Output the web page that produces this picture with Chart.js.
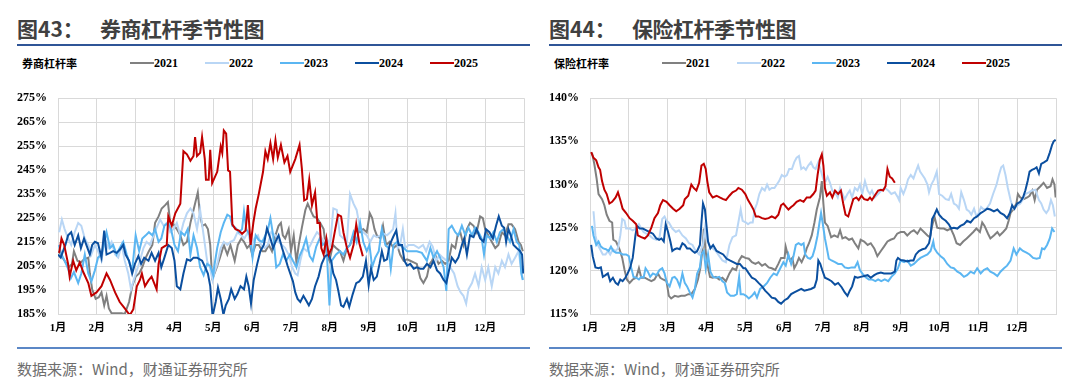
<!DOCTYPE html>
<html>
<head>
<meta charset="utf-8">
<script src="https://cdn.jsdelivr.net/npm/chart.js@4.4.1/dist/chart.umd.min.js"></script>
<style>
  body { margin: 0; background: #fff; width: 1080px; height: 391px; overflow: hidden; position: relative; font-family: "Noto Sans CJK SC", sans-serif; }
  .panel { position: absolute; top: 0; width: 532px; height: 391px; }
  .fig { position: absolute; top: 17px; left: 17px; font-size: 21px; line-height: 22px; font-weight: bold; color: #404040; }
  .name { position: absolute; top: 17px; left: 100px; font-size: 21px; line-height: 22px; font-weight: bold; color: #404040; letter-spacing: -0.5px; }
  .rule { position: absolute; left: 17px; width: 513px; top: 44px; height: 2px; background: #2f5597; }
  .unit { position: absolute; left: 22px; top: 56px; font-size: 11px; line-height: 14px; font-weight: bold; color: #000; }
  .leg { position: absolute; top: 56px; height: 14px; font: bold 12px "Liberation Serif", serif; line-height: 14px; color: #000; }
  .leg i { position: absolute; left: 0; top: 6px; width: 24px; height: 2px; }
  .leg span { position: absolute; left: 24px; top: 0; }
  .box { position: absolute; left: 0; top: 80px; width: 532px; height: 260px; }
  .foot { position: absolute; left: 17px; width: 513px; top: 347px; height: 2px; background: #5b87c6; }
  .src { position: absolute; left: 17px; top: 359px; font-size: 15px; line-height: 20px; color: #6d6d6d; }
</style>
</head>
<body>
<div class="panel" id="p1" style="left:0">
  <div class="fig">图43：</div>
  <div class="name">券商杠杆季节性图</div>
  <div class="rule"></div>
  <div class="unit">券商杠杆率</div>
  <div class="box"><canvas id="c1" width="532" height="260"></canvas></div>
  <div class="foot"></div>
  <div class="src">数据来源：Wind，财通证券研究所</div>
</div>
<div class="panel" id="p2" style="left:532px">
  <div class="fig">图44：</div>
  <div class="name">保险杠杆季节性图</div>
  <div class="rule"></div>
  <div class="unit">保险杠杆率</div>
  <div class="box"><canvas id="c2" width="532" height="260"></canvas></div>
  <div class="foot"></div>
  <div class="src">数据来源：Wind，财通证券研究所</div>
</div>
<script>
// x = month position (0 = 1月初, 12 = 年末), y = 杠杆率 %
const years = ["2021", "2022", "2023", "2024", "2025"];
const colors = ["#808080", "#b9d6f5", "#5bb6f2", "#0b4f9f", "#c00000"];
const monthLabels = ["1月", "2月", "3月", "4月", "5月", "6月", "7月", "8月", "9月", "10月", "11月", "12月"];

const broker2021 = [[0.02,211.2],[0.09,209.2],[0.17,207.2],[0.28,204.5],[0.36,205.9],[0.41,211.2],[0.50,207.2],[0.59,206.5],[0.67,207.8],[0.78,208.5],[0.82,201.9],[0.88,195.3],[0.97,191.3],[1.05,192],[1.12,194],[1.19,188.6],[1.25,192.6],[1.31,187.3],[1.38,185.3],[1.47,185.3],[1.55,185.3],[1.64,185.3],[1.72,185],[1.83,190],[1.91,196.6],[2.00,200.6],[2.09,201.9],[2.17,204.5],[2.26,208.5],[2.34,211.2],[2.43,213.8],[2.50,223],[2.59,225.7],[2.67,229],[2.76,230.4],[2.83,231.7],[2.89,223],[2.97,222.4],[3.06,220.4],[3.15,217.8],[3.23,213.8],[3.32,215.1],[3.41,223],[3.49,228.4],[3.55,232.4],[3.60,235.7],[3.66,225.7],[3.72,221.8],[3.79,222.4],[3.86,220.4],[3.92,213.8],[3.97,200],[4.00,200.6],[4.09,204.5],[4.17,208.5],[4.27,213.8],[4.36,209.8],[4.44,213.8],[4.55,207.2],[4.63,213.8],[4.72,216.5],[4.79,215.1],[4.87,212.5],[4.94,213.8],[5.00,209.8],[5.09,213.8],[5.17,213.8],[5.26,211.2],[5.34,211.2],[5.43,213.8],[5.51,211.2],[5.60,217.8],[5.68,221.8],[5.74,223],[5.79,217.8],[5.85,216.5],[5.94,220.4],[6.00,211.2],[6.07,217.8],[6.14,206.5],[6.20,213.8],[6.28,221],[6.37,228.4],[6.43,231],[6.50,228.4],[6.58,225.7],[6.67,225],[6.75,223],[6.84,220.4],[6.92,209.8],[6.99,207.2],[7.08,213.8],[7.16,212.5],[7.26,211.2],[7.35,207.2],[7.44,212.5],[7.52,213.8],[7.61,217.8],[7.69,220.4],[7.78,219.1],[7.86,220.4],[7.95,219.1],[8.03,227],[8.09,225],[8.15,220.4],[8.21,217.8],[8.30,216.5],[8.37,221.8],[8.45,213.8],[8.54,215.1],[8.64,212.5],[8.73,213.8],[8.81,209.8],[8.90,207.2],[8.99,207.8],[9.07,207.2],[9.16,206.5],[9.24,205.9],[9.33,200],[9.41,197.9],[9.50,200.6],[9.57,205.9],[9.63,207.2],[9.71,209.8],[9.80,205.9],[9.89,207.2],[9.97,205.9],[10.06,207.2],[10.14,213.8],[10.23,212.5],[10.29,217.8],[10.36,219.1],[10.44,213.8],[10.53,220.4],[10.61,223],[10.70,221.8],[10.78,219.1],[10.87,225.7],[10.94,225],[11.00,220.4],[11.08,217.8],[11.17,215.1],[11.26,212.5],[11.34,213.8],[11.43,219.1],[11.51,217.8],[11.60,222.4],[11.68,222.4],[11.77,220.4],[11.86,215.1],[11.92,213.8],[11.97,211.2]];

const broker2022 = [[0.03,219.1],[0.10,224.4],[0.17,220.4],[0.26,216.5],[0.34,213.8],[0.43,219.1],[0.52,223],[0.60,221.8],[0.69,216.5],[0.78,213.8],[0.86,209.8],[0.95,213.8],[1.03,211.2],[1.12,207.2],[1.21,216.5],[1.29,212.5],[1.38,215.1],[1.47,209.8],[1.55,208.5],[1.64,213.8],[1.72,207.2],[1.81,201.9],[1.88,195.3],[1.95,199.2],[2.03,203.2],[2.11,207.2],[2.20,212.5],[2.28,215.1],[2.37,213.8],[2.46,217.8],[2.54,221],[2.63,224.4],[2.72,221.8],[2.80,223],[2.89,219.1],[2.97,220.4],[3.06,223],[3.15,217.8],[3.23,223],[3.32,227],[3.41,229],[3.49,227],[3.58,220.4],[3.66,228.4],[3.75,217.8],[3.84,207.2],[3.92,203.9],[3.98,199],[4.02,201.9],[4.10,205.9],[4.19,212.5],[4.27,215.1],[4.36,213.8],[4.44,215.1],[4.53,215.8],[4.62,219.1],[4.72,217.8],[4.80,216.5],[4.89,219.1],[4.97,213.8],[5.06,216.5],[5.15,217.8],[5.23,213.8],[5.32,212.5],[5.40,213.8],[5.49,219.1],[5.60,217.8],[5.68,215.1],[5.77,213.8],[5.85,212.5],[5.94,209.8],[6.03,204.5],[6.11,201.9],[6.17,201.2],[6.24,207.2],[6.32,212.5],[6.41,211.2],[6.50,213.8],[6.58,216.5],[6.67,219.1],[6.75,217.8],[6.84,215.1],[6.92,216.5],[7.01,213.8],[7.09,229],[7.18,228.4],[7.26,217.8],[7.35,216.5],[7.44,215.1],[7.52,235],[7.61,231],[7.69,228.4],[7.78,220.4],[7.86,219.1],[7.95,217.8],[8.04,215.1],[8.13,217.8],[8.21,217.1],[8.30,217.8],[8.39,218.4],[8.47,217.8],[8.56,219.1],[8.63,220.4],[8.69,227],[8.75,212.5],[8.81,213.8],[8.88,220.4],[8.94,212.5],[9.03,213.8],[9.16,213.8],[9.29,212.5],[9.40,213.8],[9.48,211.2],[9.57,215.1],[9.65,213.1],[9.74,207.2],[9.83,209.8],[9.91,208.5],[10.01,207.2],[10.10,204.5],[10.20,201.9],[10.29,196.6],[10.37,194],[10.44,192.6],[10.51,189.3],[10.57,195.3],[10.66,197.9],[10.74,201.9],[10.83,196.6],[10.91,204.5],[11.00,199.2],[11.08,204.5],[11.17,196.6],[11.26,204.5],[11.34,201.9],[11.43,207.2],[11.51,204.5],[11.60,209.8],[11.68,205.9],[11.77,208.5],[11.86,211.2],[11.92,204.5],[11.97,199.2]];

const broker2023 = [[0.02,213.8],[0.09,209.8],[0.17,207.2],[0.26,203.9],[0.33,199.9],[0.41,202.5],[0.52,197.9],[0.60,201.9],[0.69,209.8],[0.78,201.9],[0.86,198.6],[0.95,203.2],[1.03,208.5],[1.12,209.8],[1.19,214.5],[1.25,219.1],[1.34,212.5],[1.42,213.8],[1.51,209.8],[1.59,212.5],[1.68,215.1],[1.77,209.8],[1.85,205.9],[1.91,203.2],[2.00,217.8],[2.09,211.2],[2.17,216.5],[2.26,217.8],[2.34,219.1],[2.43,217.8],[2.50,220.4],[2.59,215.1],[2.66,216.5],[2.74,221.8],[2.83,223],[2.91,220.4],[3.00,213.8],[3.09,211.2],[3.17,219.1],[3.26,217.8],[3.34,220.4],[3.41,209.8],[3.49,217.8],[3.58,212.5],[3.66,204.5],[3.75,201.2],[3.84,205.9],[3.92,205],[4.00,201],[4.02,204.5],[4.10,212.5],[4.19,219.1],[4.27,223],[4.36,226.4],[4.43,225.7],[4.49,221.8],[4.57,221],[4.66,219.1],[4.74,220.4],[4.79,227.7],[4.85,220.4],[4.94,217.8],[5.01,208.5],[5.09,217.8],[5.17,215.8],[5.26,215.1],[5.34,217.8],[5.40,219.8],[5.47,225],[5.54,217.8],[5.62,204.5],[5.71,205.9],[5.79,209.8],[5.88,207.2],[5.97,209.8],[6.05,207.2],[6.14,204.5],[6.22,209.2],[6.31,212.5],[6.39,216.5],[6.48,209.2],[6.56,207.2],[6.65,213.1],[6.74,216.5],[6.82,213.8],[6.91,215.1],[6.99,188.6],[7.05,207.2],[7.16,209.8],[7.26,211.2],[7.35,209.8],[7.44,212.5],[7.52,213.8],[7.61,219.1],[7.69,215.1],[7.78,223],[7.86,215.1],[7.95,211.2],[8.02,213.8],[8.09,204.5],[8.17,208.5],[8.26,211.2],[8.34,220.4],[8.43,213.8],[8.51,212.5],[8.57,203.9],[8.64,213.8],[8.73,215.1],[8.81,213.8],[8.90,212.5],[8.99,211.2],[9.11,211.2],[9.24,211.2],[9.37,210.5],[9.50,207.2],[9.59,212.5],[9.67,208.5],[9.76,211.2],[9.84,208.5],[9.93,204.5],[10.00,194.6],[10.06,220.4],[10.14,221.8],[10.23,219.1],[10.31,217.8],[10.40,221.8],[10.49,217.8],[10.57,221],[10.66,217.8],[10.74,221],[10.83,219.1],[10.91,216.5],[10.97,209.8],[11.04,217.8],[11.13,216.5],[11.21,219.1],[11.30,215.1],[11.38,219.1],[11.47,220.4],[11.56,217.8],[11.64,215.1],[11.73,220.4],[11.81,215.1],[11.88,213.8],[11.93,201.9],[11.97,199.2]];

const broker2024 = [[0,209.8],[0.07,208.5],[0.13,211.2],[0.19,213.8],[0.26,217.8],[0.34,219.1],[0.43,213.8],[0.52,217.8],[0.59,212.5],[0.67,216.5],[0.73,213.8],[0.82,209.8],[0.88,213.8],[0.95,215.1],[1.03,214.5],[1.12,208.5],[1.19,219.8],[1.25,209.8],[1.34,210.5],[1.42,211.2],[1.51,210.5],[1.59,211.8],[1.68,213.8],[1.74,209.8],[1.83,207.2],[1.91,201.9],[1.98,205.9],[2.07,209.2],[2.14,205.9],[2.22,208.5],[2.33,207.2],[2.41,210.5],[2.50,207.2],[2.59,210.5],[2.66,204.5],[2.74,208.5],[2.84,213.8],[2.93,212.5],[3.00,207.2],[3.06,196.6],[3.15,195.3],[3.23,201.9],[3.32,207.8],[3.41,207.2],[3.49,208.5],[3.58,208.5],[3.71,207.2],[3.79,204.5],[3.86,201.9],[3.92,196.6],[3.98,184],[4.06,190],[4.12,196],[4.19,191.3],[4.26,184.7],[4.32,188.6],[4.40,191.3],[4.46,195.3],[4.55,191.3],[4.62,193.3],[4.70,196.6],[4.79,195.3],[4.85,200.6],[4.91,196.6],[4.97,189.3],[5.04,199.2],[5.13,205.9],[5.21,211.2],[5.30,213.8],[5.38,220.7],[5.47,216.5],[5.54,212.5],[5.60,215.1],[5.68,217.8],[5.77,212.5],[5.85,208.5],[5.91,205.2],[5.98,201.9],[6.05,198.6],[6.11,194],[6.17,191.3],[6.24,190],[6.32,192.6],[6.39,190.6],[6.46,188.6],[6.54,191.3],[6.62,196.6],[6.71,200.6],[6.79,205.9],[6.88,209.2],[6.97,209.8],[7.03,207.2],[7.09,201.9],[7.16,199.2],[7.22,194.6],[7.29,188.6],[7.35,188],[7.44,191.3],[7.50,188],[7.59,193.3],[7.68,197.9],[7.76,198.6],[7.85,200.6],[7.93,207.2],[8.00,197],[8.06,203.9],[8.13,199.2],[8.21,200.6],[8.28,205.9],[8.34,211.2],[8.40,207.2],[8.47,207.8],[8.54,213.8],[8.63,217.1],[8.71,219.8],[8.77,213.8],[8.86,213.8],[8.92,207.2],[8.99,205.2],[9.07,205.9],[9.16,203.9],[9.24,204.5],[9.33,203.9],[9.41,203.9],[9.50,205.9],[9.59,204.5],[9.67,207.2],[9.76,203.2],[9.84,201.9],[9.93,199.2],[10.00,197.9],[10.06,202.5],[10.14,208.5],[10.23,206.5],[10.31,208.5],[10.40,213.8],[10.46,216.5],[10.53,209.8],[10.61,217.8],[10.70,217.1],[10.78,220.4],[10.87,216.5],[10.96,215.1],[11.02,220.4],[11.11,219.1],[11.20,216.5],[11.28,221.8],[11.35,225.7],[11.43,221.8],[11.49,221],[11.54,215.1],[11.60,220.4],[11.66,217.8],[11.73,213.8],[11.81,212.5],[11.90,211.2],[11.95,209.8],[11.98,201.9]];

const broker2025 = [[0.03,210.5],[0.09,216.5],[0.16,213.8],[0.26,205.9],[0.30,200.6],[0.39,207.2],[0.47,203.2],[0.56,206.5],[0.65,202.5],[0.78,197.9],[0.86,192.6],[0.99,194],[1.12,196.6],[1.25,201.9],[1.34,199.2],[1.47,194],[1.59,190],[1.72,187.3],[1.85,184.5],[1.94,187],[2.03,196.6],[2.11,199.2],[2.16,201.9],[2.24,196.6],[2.33,199],[2.41,200.6],[2.54,195.3],[2.59,205.9],[2.67,212.5],[2.80,213.8],[2.84,225.7],[2.93,221.8],[3.02,227],[3.15,231],[3.23,252.9],[3.32,251.6],[3.41,248.9],[3.49,250.9],[3.53,258.8],[3.58,250.9],[3.66,252.2],[3.71,258.8],[3.78,249.6],[3.81,241],[3.88,241],[3.92,253.5],[3.97,239.6],[4.10,244.3],[4.19,254.9],[4.23,252.2],[4.27,261.5],[4.33,260.2],[4.38,244.9],[4.43,244.3],[4.49,222.4],[4.57,220.4],[4.66,219.8],[4.74,218.4],[4.83,219.8],[4.89,230.4],[4.96,213.8],[5.03,223],[5.09,229],[5.17,235],[5.28,244.3],[5.34,252.9],[5.40,249.6],[5.47,256.2],[5.54,249.6],[5.60,257.5],[5.66,250.2],[5.74,255.5],[5.83,248.2],[5.91,250.9],[5.98,244.3],[6.11,249.6],[6.22,255.5],[6.28,245.6],[6.34,232.4],[6.41,233],[6.47,241],[6.54,230.4],[6.62,235.7],[6.68,223],[6.74,223],[6.78,212.5],[6.84,209.8],[6.91,216.5],[6.97,209.8],[7.05,212.5],[7.14,220.4],[7.21,226.4],[7.29,225.7],[7.35,219.1],[7.44,212.5],[7.52,208.5],[7.61,213.8],[7.68,222.4],[7.76,214.5],[7.85,209.1]];

const insure2021 = [[0.05,133.7],[0.11,132.4],[0.17,130.7],[0.22,128.9],[0.31,128.3],[0.37,127.6],[0.43,126.5],[0.50,125.8],[0.57,125.6],[0.60,123.6],[0.67,123.4],[0.76,122.5],[0.83,121.5],[0.89,120.1],[0.95,119.0],[1.02,118.6],[1.10,119.0],[1.19,119.2],[1.26,120.3],[1.32,119.2],[1.41,119.2],[1.49,119.0],[1.58,118.8],[1.66,119.0],[1.75,119.7],[1.81,119.2],[1.88,119.0],[1.97,118.8],[2.03,117.1],[2.09,116.8],[2.18,117.1],[2.27,117.0],[2.35,117.1],[2.44,117.1],[2.53,117.3],[2.61,117.3],[2.70,117.9],[2.78,119.0],[2.84,120.3],[2.90,122.6],[2.93,124.9],[2.97,122.6],[3.02,120.8],[3.09,119.3],[3.16,119.2],[3.24,119.3],[3.33,119.0],[3.41,119.2],[3.50,118.8],[3.59,119.7],[3.67,120.3],[3.76,120.1],[3.84,121.2],[3.91,121.7],[4.00,121.5],[4.09,121.4],[4.17,121.0],[4.26,120.8],[4.34,121.0],[4.43,120.6],[4.51,120.8],[4.60,120.4],[4.68,120.3],[4.77,120.1],[4.85,120.8],[4.92,121.5],[5.01,121.5],[5.04,122.8],[5.09,121.9],[5.15,121.2],[5.21,121.5],[5.26,120.3],[5.32,120.8],[5.38,121.5],[5.45,121.0],[5.52,121.7],[5.58,122.6],[5.64,123.2],[5.71,124.1],[5.78,125.6],[5.84,127.1],[5.88,127.8],[5.92,128.5],[5.97,130.4],[6.01,127.8],[6.05,125.6],[6.12,125.2],[6.21,123.9],[6.29,124.1],[6.38,123.9],[6.44,124.7],[6.50,123.75],[6.58,123.9],[6.67,123.6],[6.75,123.75],[6.82,123.2],[6.91,122.6],[6.97,123.6],[7.06,123.4],[7.15,123.0],[7.23,123.2],[7.32,122.6],[7.40,121.7],[7.49,122.3],[7.57,122.8],[7.66,123.4],[7.74,123.6],[7.83,123.75],[7.91,124.3],[8.00,124.5],[8.09,124.5],[8.17,124.1],[8.26,124.5],[8.34,124.7],[8.43,124.3],[8.51,124.9],[8.60,124.5],[8.69,124.1],[8.75,123.9],[8.81,125.2],[8.87,126.3],[8.94,125.0],[9.03,124.9],[9.11,124.9],[9.20,124.7],[9.29,124.9],[9.37,124.1],[9.44,123.2],[9.53,123.0],[9.61,123.4],[9.70,123.75],[9.78,124.1],[9.87,124.5],[9.95,124.9],[10.04,124.5],[10.10,125.6],[10.16,125.2],[10.25,124.3],[10.31,123.75],[10.40,124.1],[10.49,124.5],[10.55,124.1],[10.64,124.5],[10.72,124.9],[10.78,125.8],[10.83,126.7],[10.90,127.1],[10.98,127.8],[11.02,128.9],[11.08,128.5],[11.17,128.3],[11.26,128.5],[11.32,128.7],[11.39,129.3],[11.45,128.2],[11.51,129.4],[11.60,129.8],[11.68,130.2],[11.77,129.6],[11.86,129.8],[11.91,130.6],[11.96,130.0],[11.99,128.5]];

const insure2022 = [[0.09,126.9],[0.14,124.1],[0.20,123.0],[0.26,122.5],[0.33,121.9],[0.40,121.9],[0.46,122.3],[0.52,121.9],[0.59,122.5],[0.66,122.3],[0.72,122.6],[0.78,124.1],[0.83,126.0],[0.89,125.8],[0.93,124.9],[1.02,124.9],[1.10,124.7],[1.19,124.9],[1.26,125.4],[1.32,124.9],[1.38,124.5],[1.45,124.3],[1.53,124.1],[1.62,123.75],[1.71,123.6],[1.79,123.9],[1.86,126.0],[1.92,126.3],[1.97,125.8],[2.03,125.6],[2.12,124.9],[2.21,124.5],[2.29,124.7],[2.38,124.1],[2.47,123.75],[2.55,123.2],[2.64,123.0],[2.72,122.3],[2.81,121.9],[2.87,122.6],[2.91,123.0],[2.96,124.9],[3.00,123.75],[3.07,123.0],[3.16,122.6],[3.24,122.3],[3.33,121.7],[3.41,121.2],[3.50,121.0],[3.59,123.0],[3.67,123.9],[3.76,124.1],[3.82,125.6],[3.88,127.1],[3.93,125.8],[4.02,125.6],[4.07,125.4],[4.13,125.6],[4.19,125.6],[4.24,127.1],[4.30,127.8],[4.36,128.9],[4.43,129.6],[4.50,129.3],[4.56,130.0],[4.62,129.4],[4.68,129.6],[4.75,129.6],[4.81,130.0],[4.87,130.4],[4.94,131.1],[5.01,130.9],[5.07,131.1],[5.13,131.8],[5.20,131.8],[5.26,132.6],[5.32,133.1],[5.38,133.3],[5.44,131.8],[5.50,132.0],[5.56,131.7],[5.62,132.2],[5.69,132.6],[5.75,132.0],[5.81,131.8],[5.88,132.6],[5.95,131.5],[6.01,130.6],[6.07,130.4],[6.12,130.9],[6.18,130.2],[6.24,129.3],[6.31,129.1],[6.38,128.5],[6.44,129.6],[6.50,128.9],[6.56,128.3],[6.63,128.9],[6.69,129.3],[6.75,128.5],[6.82,129.6],[6.89,129.3],[6.95,130.0],[7.01,128.9],[7.08,130.4],[7.15,129.3],[7.21,128.9],[7.26,129.3],[7.33,128.5],[7.42,128.9],[7.50,129.3],[7.59,129.6],[7.68,129.3],[7.76,128.9],[7.85,129.1],[7.93,128.5],[7.96,128.2],[8.00,129.6],[8.07,128.9],[8.13,129.6],[8.19,130.6],[8.26,131.1],[8.33,130.7],[8.39,131.5],[8.45,132.2],[8.50,131.5],[8.56,131.1],[8.62,130.7],[8.69,130.0],[8.73,129.1],[8.79,130.0],[8.86,130.6],[8.93,131.5],[8.99,128.9],[9.07,128.7],[9.16,128.3],[9.24,128.2],[9.30,128.9],[9.37,127.8],[9.44,127.6],[9.50,127.2],[9.56,129.1],[9.63,128.2],[9.70,127.1],[9.76,126.9],[9.82,126.5],[9.89,127.2],[9.95,126.3],[10.01,126.7],[10.07,127.4],[10.14,127.1],[10.21,127.2],[10.30,127.8],[10.38,128.9],[10.47,130.0],[10.53,131.1],[10.59,132.0],[10.64,132.2],[10.70,131.1],[10.76,129.6],[10.83,128.2],[10.90,127.2],[10.96,127.4],[11.02,127.6],[11.08,127.8],[11.15,128.3],[11.21,128.9],[11.30,129.1],[11.38,129.3],[11.47,129.4],[11.56,128.2],[11.62,127.8],[11.68,127.1],[11.75,126.7],[11.81,127.1],[11.87,128.2],[11.92,127.6],[11.97,126.3]];

const insure2023 = [[0.05,125.2],[0.09,124.1],[0.16,123.0],[0.22,123.4],[0.28,122.8],[0.34,122.6],[0.41,122.5],[0.48,122.3],[0.54,122.8],[0.60,122.3],[0.67,122.1],[0.76,122.1],[0.84,121.9],[0.93,121.9],[1.00,121.7],[1.06,120.4],[1.12,119.3],[1.19,119.2],[1.26,119.0],[1.32,119.3],[1.38,119.2],[1.43,120.3],[1.49,119.9],[1.55,119.3],[1.62,119.7],[1.71,119.5],[1.79,120.1],[1.86,120.3],[1.92,119.7],[1.98,118.6],[2.05,118.2],[2.12,119.2],[2.18,119.3],[2.24,119.0],[2.31,118.2],[2.38,119.7],[2.44,118.6],[2.50,118.2],[2.57,117.5],[2.64,116.9],[2.70,117.9],[2.76,119.7],[2.83,120.4],[2.87,121.9],[2.93,122.3],[2.98,120.3],[3.04,121.9],[3.10,119.9],[3.17,119.3],[3.24,119.2],[3.33,119.3],[3.41,118.8],[3.47,118.6],[3.53,117.5],[3.62,117.1],[3.71,117.1],[3.78,117.3],[3.84,119.3],[3.88,117.3],[3.95,117.3],[4.02,117.1],[4.09,116.8],[4.17,117.1],[4.24,117.5],[4.30,116.9],[4.38,117.9],[4.47,118.2],[4.56,118.6],[4.64,119.2],[4.73,119.7],[4.81,119.5],[4.90,120.3],[4.98,121.0],[5.04,120.6],[5.11,121.9],[5.18,120.8],[5.24,121.7],[5.30,123.0],[5.37,123.2],[5.44,123.0],[5.50,123.2],[5.54,121.9],[5.61,121.5],[5.67,121.4],[5.73,121.7],[5.79,122.6],[5.86,124.1],[5.91,125.6],[5.95,126.7],[5.99,125.6],[6.05,123.75],[6.10,122.6],[6.15,121.4],[6.22,121.2],[6.31,121.0],[6.39,120.8],[6.48,120.8],[6.56,120.4],[6.65,120.3],[6.74,120.4],[6.82,120.4],[6.89,121.0],[6.95,120.1],[7.01,119.7],[7.09,119.3],[7.18,119.0],[7.26,119.0],[7.35,118.8],[7.42,119.0],[7.50,118.8],[7.59,119.0],[7.68,118.8],[7.76,119.3],[7.85,119.7],[7.93,120.3],[8.00,121.2],[8.09,121.0],[8.17,121.2],[8.26,120.6],[8.34,120.8],[8.43,121.2],[8.51,121.5],[8.60,121.7],[8.69,121.9],[8.77,122.3],[8.84,123.4],[8.87,122.6],[8.94,122.1],[9.03,121.7],[9.11,121.4],[9.20,120.8],[9.29,120.4],[9.37,120.3],[9.46,119.9],[9.54,119.7],[9.63,119.3],[9.71,119.5],[9.80,119.9],[9.89,119.7],[9.97,120.3],[10.06,119.7],[10.14,120.1],[10.23,120.3],[10.31,119.9],[10.40,119.7],[10.49,119.4],[10.57,119.9],[10.66,120.3],[10.74,120.6],[10.83,121.2],[10.91,122.6],[10.98,121.9],[11.07,122.6],[11.15,122.3],[11.24,122.1],[11.32,121.9],[11.41,121.5],[11.50,121.4],[11.58,121.5],[11.64,122.6],[11.70,122.5],[11.77,123.0],[11.84,123.75],[11.90,124.9],[11.96,124.5]];

const insure2024 = [[0.03,123.0],[0.07,121.7],[0.14,120.4],[0.22,120.3],[0.28,120.4],[0.33,119.3],[0.40,119.5],[0.46,119.7],[0.52,118.8],[0.59,119.2],[0.66,118.6],[0.72,118.4],[0.78,119.0],[0.84,118.8],[0.91,119.2],[0.97,119.7],[1.03,120.3],[1.10,121.5],[1.17,124.1],[1.21,125.2],[1.28,124.9],[1.36,124.9],[1.45,124.7],[1.53,124.5],[1.62,124.3],[1.71,123.75],[1.78,123.6],[1.84,123.75],[1.90,123.4],[1.95,125.4],[2.01,124.5],[2.07,123.4],[2.12,122.3],[2.18,122.5],[2.24,122.6],[2.31,122.5],[2.38,123.2],[2.44,123.0],[2.50,122.6],[2.57,122.6],[2.64,122.3],[2.70,122.1],[2.76,122.3],[2.83,123.0],[2.87,125.6],[2.91,127.8],[2.96,127.1],[3.00,125.2],[3.04,123.4],[3.10,122.6],[3.17,123.0],[3.26,122.3],[3.34,122.1],[3.43,121.9],[3.52,121.4],[3.60,121.2],[3.69,121.0],[3.78,120.8],[3.86,120.8],[3.95,120.3],[4.00,120.3],[4.09,119.7],[4.17,119.2],[4.26,119.0],[4.34,118.6],[4.43,118.2],[4.51,117.7],[4.60,117.3],[4.68,116.9],[4.77,116.8],[4.85,116.4],[4.92,116.2],[5.01,116.6],[5.09,116.8],[5.18,117.3],[5.26,117.5],[5.35,117.7],[5.44,117.9],[5.52,117.7],[5.61,117.8],[5.69,117.9],[5.78,118.1],[5.84,119.0],[5.88,121.2],[5.93,120.8],[5.98,120.1],[6.05,119.2],[6.14,119.0],[6.22,118.8],[6.31,118.4],[6.39,118.6],[6.48,118.1],[6.56,117.5],[6.63,117.1],[6.69,117.7],[6.75,118.2],[6.82,119.3],[6.89,119.2],[6.97,119.3],[7.06,119.4],[7.15,119.5],[7.23,119.2],[7.32,119.5],[7.40,119.7],[7.49,119.8],[7.57,119.7],[7.66,119.7],[7.76,119.7],[7.85,119.9],[7.89,121.2],[7.93,121.5],[8.00,121.25],[8.09,121.2],[8.17,121.1],[8.26,121.2],[8.33,121.2],[8.39,121.9],[8.47,122.3],[8.56,122.5],[8.64,122.6],[8.73,123.2],[8.77,124.1],[8.81,126.0],[8.87,126.5],[8.93,127.1],[8.99,126.5],[9.07,126.1],[9.16,125.8],[9.24,125.4],[9.30,124.9],[9.37,125.0],[9.46,124.9],[9.54,125.2],[9.63,125.4],[9.71,125.8],[9.80,125.6],[9.89,126.1],[9.97,126.3],[10.06,126.7],[10.14,126.9],[10.23,127.2],[10.31,127.1],[10.40,126.9],[10.49,127.1],[10.57,126.7],[10.66,126.5],[10.74,126.1],[10.81,126.7],[10.87,127.6],[10.93,127.2],[11.00,127.8],[11.08,128.0],[11.15,128.5],[11.21,129.3],[11.27,130.4],[11.32,131.5],[11.38,131.7],[11.44,131.8],[11.50,132.0],[11.56,131.3],[11.62,132.4],[11.70,132.6],[11.77,132.8],[11.84,133.7],[11.90,134.6],[11.94,135.0],[11.99,135.2]];

const insure2025 = [[0.03,133.75],[0.09,133.1],[0.16,132.8],[0.22,132.0],[0.26,131.7],[0.31,130.4],[0.37,129.4],[0.43,128.9],[0.50,127.8],[0.57,128.0],[0.66,128.5],[0.72,129.1],[0.78,128.2],[0.84,127.2],[0.93,126.7],[1.02,126.1],[1.10,125.8],[1.19,125.4],[1.23,124.1],[1.32,123.9],[1.41,123.75],[1.49,124.1],[1.58,125.0],[1.66,126.1],[1.75,126.7],[1.81,127.6],[1.88,128.2],[1.97,128.0],[2.05,127.6],[2.14,127.2],[2.22,126.9],[2.31,127.2],[2.40,127.6],[2.44,128.3],[2.53,128.7],[2.61,130.0],[2.67,129.6],[2.74,129.3],[2.81,130.2],[2.87,132.2],[2.93,132.4],[2.98,131.8],[3.02,130.4],[3.07,129.1],[3.16,128.5],[3.26,128.7],[3.34,128.5],[3.43,128.3],[3.50,128.2],[3.59,128.7],[3.67,129.1],[3.76,129.3],[3.82,129.6],[3.91,129.4],[4.00,128.9],[4.07,128.2],[4.15,127.6],[4.21,127.1],[4.27,126.3],[4.34,126.3],[4.43,126.1],[4.51,126.0],[4.60,126.1],[4.68,126.3],[4.77,126.1],[4.85,126.5],[4.92,127.6],[4.98,127.8],[5.05,127.4],[5.11,127.1],[5.18,127.4],[5.24,127.6],[5.32,128.0],[5.41,128.2],[5.50,128.0],[5.58,128.5],[5.67,128.5],[5.75,128.9],[5.81,129.3],[5.86,131.1],[5.92,132.9],[5.97,133.5],[6.01,132.2],[6.05,129.6],[6.10,128.7],[6.18,129.1],[6.24,128.5],[6.31,129.3],[6.39,128.9],[6.46,129.3],[6.52,127.8],[6.58,126.5],[6.65,126.3],[6.72,127.4],[6.78,128.3],[6.86,128.5],[6.92,128.2],[6.99,128.7],[7.06,128.3],[7.15,128.2],[7.21,128.5],[7.26,128.2],[7.33,128.7],[7.42,129.3],[7.49,129.4],[7.55,129.3],[7.61,129.8],[7.66,131.8],[7.72,130.9],[7.78,130.7],[7.85,130.2]];

const brokerTicks = [185, 195, 205, 215, 225, 235, 245, 255, 265, 275];
const insureTicks = [115, 120, 125, 130, 135, 140];

function addLegend(panelId) {
  const panel = document.getElementById(panelId);
  years.forEach((y, i) => {
    const d = document.createElement("div");
    d.className = "leg";
    d.style.left = (130 + i * 75) + "px";
    d.innerHTML = '<i style="background:' + colors[i] + '"></i><span>' + y + "</span>";
    panel.appendChild(d);
  });
}

function grafico(canvasId, series, ticks, padRight) {
  const drawOrder = [4, 3, 2, 1, 0];
  const tickFont = { family: "'Liberation Serif', 'Noto Sans CJK SC', serif", size: 12, weight: "bold" };
  new Chart(document.getElementById(canvasId), {
    type: "line",
    data: {
      datasets: series.map((s, i) => ({
        label: years[i],
        data: s.map((p) => ({ x: p[0], y: p[1] })),
        borderColor: colors[i],
        borderWidth: 2,
        pointRadius: 0,
        tension: 0,
        fill: false,
        order: drawOrder[i],
      })),
    },
    options: {
      responsive: false,
      animation: false,
      devicePixelRatio: 1,
      layout: { padding: { left: 0, right: padRight, top: 8, bottom: 0 } },
      plugins: { legend: { display: false }, tooltip: { enabled: false } },
      scales: {
        x: {
          type: "linear",
          min: 0,
          max: 12,
          afterFit: (scale) => { scale.height = 26; },
          afterBuildTicks: (scale) => { scale.ticks = monthLabels.map((m, i) => ({ value: i })).concat([{ value: 12 }]); },
          ticks: {
            autoSkip: false,
            maxRotation: 0,
            padding: 8,
            color: "#000",
            font: { family: tickFont.family, size: 11, weight: "bold" },
            callback: (v) => (v < 12 ? monthLabels[v] : ""),
          },
          grid: { color: "#d9d9d9", lineWidth: 1, drawTicks: false },
          border: { color: "#d9d9d9" },
        },
        y: {
          min: ticks[0],
          max: ticks[ticks.length - 1],
          afterFit: (scale) => { scale.width = 58; },
          afterBuildTicks: (scale) => { scale.ticks = ticks.map((v) => ({ value: v })); },
          ticks: {
            padding: 11,
            color: "#000",
            font: tickFont,
            callback: (v) => v + "%",
          },
          grid: { color: "#d9d9d9", lineWidth: 1, drawTicks: false },
          border: { color: "#d9d9d9" },
        },
      },
    },
  });
}

addLegend("p1");
addLegend("p2");
grafico("c1", [broker2021, broker2022, broker2023, broker2024, broker2025], brokerTicks, 6);
grafico("c2", [insure2021, insure2022, insure2023, insure2024, insure2025], insureTicks, 7);
</script>
</body>
</html>
